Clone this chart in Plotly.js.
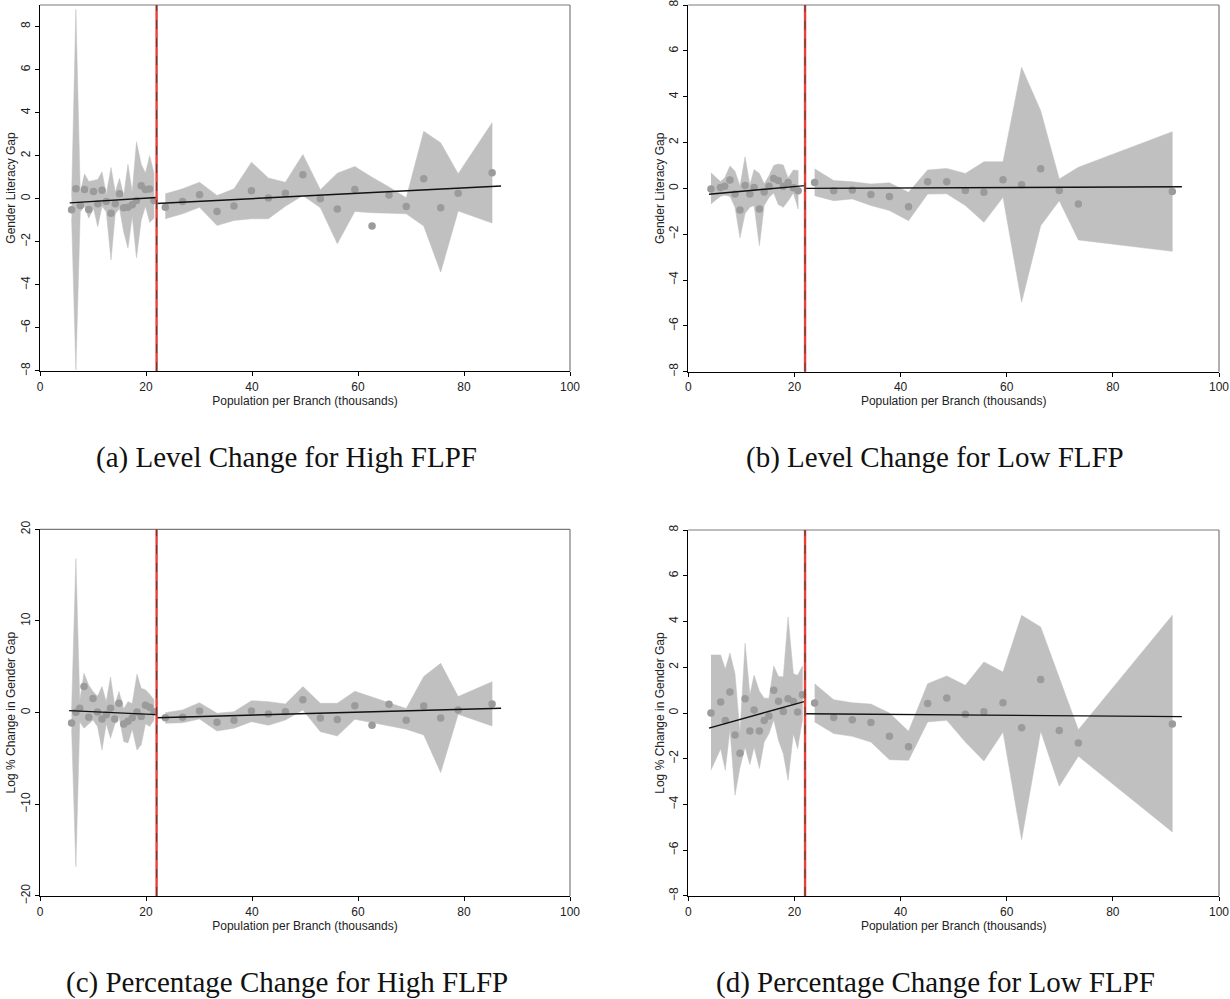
<!DOCTYPE html>
<html>
<head>
<meta charset="utf-8">
<script src="https://cdn.plot.ly/plotly-3.0.1.min.js"></script>
<style>
  html, body { margin: 0; padding: 0; background: #ffffff; }
  #chart { width: 1230px; height: 999px; }
</style>
</head>
<body>
<div id="chart"></div>
<script>
// ---------------- DATA ----------------
const cutoff = 22;
const xTicks = [0, 20, 40, 60, 80, 100];
const yTicksLevel = [-8, -6, -4, -2, 0, 2, 4, 6, 8];
const yTicksPct = [-20, -10, 0, 10, 20];

const captions = [
  "(a) Level Change for High FLPF",
  "(b) Level Change for Low FLFP",
  "(c) Percentage Change for High FLFP",
  "(d) Percentage Change for Low FLPF"
];
const yTitles = ["Gender Literacy Gap", "Gender Literacy Gap", "Log % Change in Gender Gap", "Log % Change in Gender Gap"];
const xTitle = "Population per Branch (thousands)";

// Panel (a)
const aLx  = [5.96, 6.77, 7.6, 8.4, 9.2, 10.1, 10.9, 11.7, 12.5, 13.4, 14.2, 15.0, 15.8, 16.6, 17.4, 18.2, 19.1, 19.9, 20.7, 21.5];
const aLy  = [-0.51, 0.46, -0.31, 0.43, -0.50, 0.34, -0.23, 0.40, -0.13, -0.67, -0.23, 0.23, -0.42, -0.39, -0.28, -0.08, 0.60, 0.43, 0.45, -0.08];
const aLhi = [0.1, 8.8, 0.3, 1.15, 0.8, 0.85, 0.9, 1.25, 0.2, 1.45, 0.3, 0.95, 0.15, 1.6, 0.3, 2.65, 1.6, 1.2, 2.0, 1.2];
const aLlo = [-0.9, -7.95, -0.6, -0.35, -0.9, -0.45, -1.3, -0.35, -0.6, -2.85, -0.7, -0.45, -1.55, -2.3, -0.8, -2.75, -1.0, -0.35, -1.1, -0.9];
const aRx  = [23.65, 26.9, 30.1, 33.4, 36.6, 39.9, 43.1, 46.3, 49.6, 52.9, 56.1, 59.4, 62.65, 65.85, 69.1, 72.4, 75.6, 78.9, 85.3];
const aRy  = [-0.40, -0.13, 0.19, -0.59, -0.34, 0.37, 0.03, 0.26, 1.11, 0.0, -0.48, 0.43, -1.27, 0.17, -0.36, 0.93, -0.42, 0.26, 1.21];
const aRhi = [0.23, 0.46, 0.77, 0.15, 0.46, 1.7, 0.96, 0.77, 2.06, 0.42, 1.19, 1.5, 1.0, 0.55, 0.05, 3.13, 2.6, 1.16, 3.53];
const aRlo = [-0.93, -0.7, -0.4, -1.24, -1.01, -0.93, -0.93, -0.35, 0.15, -0.42, -2.09, -0.59, -0.65, -0.67, -0.7, -1.27, -3.41, -0.57, -1.13];
const aFitLx = [5.6, 22], aFitLy = [-0.19, 0.06];
const aFitRx = [22, 87], aFitRy = [-0.22, 0.59];

// Panel (b)
const bLx  = [4.27, 6.05, 6.85, 7.85, 8.8, 9.74, 10.7, 11.6, 12.4, 13.4, 14.3, 15.2, 16.1, 16.95, 17.9, 18.8, 19.8, 20.7];
const bLy  = [-0.03, 0.04, 0.09, 0.36, -0.25, -0.95, 0.12, -0.25, 0.04, -0.9, -0.16, 0.09, 0.43, 0.34, 0.09, 0.26, 0.03, -0.1];
const bLhi = [0.68, 0.3, 0.45, 0.98, 0.75, 0.1, 1.38, 0.15, 0.82, 0.65, 0.2, 0.55, 1.0, 1.06, 1.02, 0.45, 0.8, 0.78];
const bLlo = [-0.68, -0.35, -0.3, -0.35, -0.83, -2.16, -1.1, -0.83, -0.75, -2.5, -0.75, -0.4, -0.2, -0.7, -0.83, -0.55, -0.2, -0.9];
const bRx  = [23.8, 27.4, 30.9, 34.4, 37.9, 41.5, 45.1, 48.7, 52.2, 55.7, 59.3, 62.8, 66.4, 69.9, 73.5, 91.2];
const bRy  = [0.25, -0.1, -0.07, -0.27, -0.36, -0.8, 0.29, 0.29, -0.09, -0.17, 0.37, 0.16, 0.85, -0.09, -0.68, -0.14];
const bRhi = [0.85, 0.34, 0.29, 0.19, 0.24, -0.17, 0.8, 0.87, 0.65, 1.16, 1.16, 5.28, 3.39, 0.41, 0.92, 2.47];
const bRlo = [-0.32, -0.54, -0.46, -0.75, -0.97, -1.41, -0.25, -0.24, -0.75, -1.48, -0.39, -4.97, -1.63, -0.54, -2.25, -2.75];
const bFitLx = [3.9, 22], bFitLy = [-0.26, 0.12];
const bFitRx = [22, 93], bFitRy = [0.0, 0.07];

// Panel (c)
const cLx  = [5.96, 6.77, 7.5, 8.3, 9.2, 10.0, 10.85, 11.7, 12.5, 13.3, 14.1, 14.9, 15.8, 16.6, 17.4, 18.3, 19.1, 19.9, 20.7, 21.5];
const cLy  = [-1.12, 0.05, 0.48, 2.84, -0.5, 1.55, 0.08, -0.7, -0.22, 0.48, -0.7, 1.02, -1.23, -0.95, -0.55, 0.08, -0.42, 0.8, 0.6, 0.1];
const cLhi = [0.3, 16.8, 1.3, 4.3, 3.0, 2.3, 1.8, 2.84, 1.2, 3.9, 0.8, 2.3, 0.4, 1.2, 1.0, 4.2, 2.65, 2.5, 2.0, 1.4];
const cLlo = [-1.8, -16.8, -1.0, -1.7, -1.2, -0.8, -1.5, -4.07, -1.2, -2.8, -1.3, -0.4, -3.16, -3.3, -1.8, -4.07, -3.5, -1.2, -1.5, -0.8];
const cRx  = [23.65, 26.9, 30.1, 33.4, 36.6, 39.9, 43.1, 46.3, 49.6, 52.9, 56.1, 59.4, 62.65, 65.85, 69.1, 72.4, 75.6, 78.9, 85.3];
const cRy  = [-0.55, -0.5, 0.18, -1.05, -0.83, 0.18, -0.14, 0.11, 1.42, -0.58, -0.76, 0.76, -1.38, 0.91, -0.83, 0.73, -0.58, 0.29, 0.95];
const cRhi = [0.0, 0.3, 1.09, -0.07, 0.11, 1.31, 1.2, 0.95, 2.84, 1.02, 1.02, 2.33, 1.7, 1.1, 0.44, 3.93, 5.38, 1.75, 3.38];
const cRlo = [-1.16, -1.1, -0.69, -2.0, -1.7, -0.98, -1.38, -0.8, 0.29, -2.07, -2.54, -0.73, -1.1, -1.45, -1.8, -2.43, -6.54, -0.18, -1.45];
const cFitLx = [5.5, 22], cFitLy = [0.22, -0.22];
const cFitRx = [22, 87], cFitRy = [-0.55, 0.48];

// Panel (d)
const dLx  = [4.27, 6.1, 6.97, 7.85, 8.8, 9.74, 10.7, 11.6, 12.4, 13.4, 14.3, 15.2, 16.1, 17.0, 17.9, 18.8, 19.8, 20.6, 21.5];
const dLy  = [0.0, 0.48, -0.33, 0.92, -0.96, -1.76, 0.62, -0.79, 0.13, -0.79, -0.33, -0.13, 0.99, 0.51, 0.07, 0.62, 0.5, 0.04, 0.8];
const dLhi = [2.54, 2.54, 1.92, 2.62, 1.72, -0.85, 3.05, 0.8, 1.65, 0.95, 0.65, 0.65, 2.05, 1.6, 1.58, 4.2, 1.72, 1.65, 2.05];
const dLlo = [-2.5, -1.56, -2.5, -0.72, -3.6, -2.38, -1.5, -2.25, -1.49, -2.43, -1.27, -0.9, -0.3, -1.2, -1.78, -2.94, -0.9, -1.56, -0.3];
const dRx  = [23.8, 27.4, 30.9, 34.4, 37.9, 41.5, 45.1, 48.7, 52.2, 55.7, 59.3, 62.8, 66.4, 69.9, 73.5, 91.2];
const dRy  = [0.44, -0.2, -0.29, -0.42, -1.02, -1.48, 0.41, 0.66, -0.06, 0.06, 0.45, -0.64, 1.47, -0.77, -1.31, -0.48];
const dRhi = [1.28, 0.58, 0.45, 0.39, 0.0, -0.8, 1.28, 1.62, 1.21, 2.23, 1.79, 4.27, 3.76, 1.5, -0.73, 4.27];
const dRlo = [-0.39, -0.9, -1.02, -1.27, -2.04, -2.07, -0.39, -0.32, -1.27, -2.1, -0.83, -5.54, -0.8, -3.2, -1.89, -5.2];
const dFitLx = [3.9, 22], dFitLy = [-0.66, 0.51];
const dFitRx = [22, 93], dFitRy = [-0.03, -0.16];

// ---------------- BUILD ----------------
const W = 1230, H = 999;
const bandColor = "rgb(192,192,192)";
const dotColor = "rgb(155,155,155)";

const panels = [
  {xa: "x",  ya: "y",  segs: [[aLx, aLy, aLhi, aLlo], [aRx, aRy, aRhi, aRlo]], fits: [[aFitLx, aFitLy], [aFitRx, aFitRy]],
   xpx: [40, 570], ypx: [5, 371], yr: [-8.0005, 9], yt: yTicksLevel, capx: 286, capy: 457},
  {xa: "x2", ya: "y2", segs: [[bLx, bLy, bLhi, bLlo], [bRx, bRy, bRhi, bRlo]], fits: [[bFitLx, bFitLy], [bFitRx, bFitRy]],
   xpx: [688.3, 1219], ypx: [5, 371.7], yr: [-8.0005, 8.0005], yt: yTicksLevel, capx: 935, capy: 457},
  {xa: "x3", ya: "y3", segs: [[cLx, cLy, cLhi, cLlo], [cRx, cRy, cRhi, cRlo]], fits: [[cFitLx, cFitLy], [cFitRx, cFitRy]],
   xpx: [40, 570], ypx: [529.3, 896], yr: [-20.001, 20.001], yt: yTicksPct, capx: 286.5, capy: 982},
  {xa: "x4", ya: "y4", segs: [[dLx, dLy, dLhi, dLlo], [dRx, dRy, dRhi, dRlo]], fits: [[dFitLx, dFitLy], [dFitRx, dFitRy]],
   xpx: [688.3, 1219], ypx: [530, 896], yr: [-8.0005, 8.0005], yt: yTicksLevel, capx: 935.5, capy: 982}
];

const traces = [];
const layout = {
  width: W, height: H,
  margin: {l: 0, r: 0, t: 0, b: 0, pad: 0},
  paper_bgcolor: "#ffffff",
  plot_bgcolor: "#ffffff",
  showlegend: false,
  font: {family: "Liberation Sans, Arial, sans-serif", size: 12, color: "#222"},
  shapes: [],
  annotations: []
};

panels.forEach((p, i) => {
  const n = i === 0 ? "" : String(i + 1);
  // bands
  p.segs.forEach(s => {
    const [xs, ys, hi, lo] = s;
    traces.push({
      type: "scatter", mode: "lines", xaxis: p.xa, yaxis: p.ya,
      x: xs.concat(xs.slice().reverse()),
      y: hi.concat(lo.slice().reverse()),
      fill: "toself", fillcolor: bandColor,
      line: {color: bandColor, width: 0.5}, hoverinfo: "skip"
    });
  });
  // points
  p.segs.forEach(s => {
    traces.push({
      type: "scatter", mode: "markers", xaxis: p.xa, yaxis: p.ya,
      x: s[0], y: s[1],
      marker: {color: dotColor, size: 7.5, line: {width: 0}}
    });
  });
  // fit lines
  p.fits.forEach(f => {
    traces.push({
      type: "scatter", mode: "lines", xaxis: p.xa, yaxis: p.ya,
      x: f[0], y: f[1], line: {color: "#111", width: 1.4}
    });
  });

  const xd = [p.xpx[0] / W, p.xpx[1] / W];
  const yd = [1 - p.ypx[1] / H, 1 - p.ypx[0] / H];
  layout["xaxis" + n] = {
    domain: xd, anchor: p.ya, range: [0, 100], tickvals: xTicks,
    showgrid: false, zeroline: false, showline: true, linecolor: "#000", linewidth: 1.3,
    ticks: "outside", ticklen: 4, tickwidth: 1, tickcolor: "#000",
    tickfont: {size: 12, color: "#222"}, automargin: false, ticklabeloverflow: "allow",
    title: {text: xTitle, font: {size: 12, color: "#222"}, standoff: 2}
  };
  layout["yaxis" + n] = {
    domain: yd, anchor: p.xa, range: p.yr, tickvals: p.yt, tickangle: -90,
    showgrid: false, zeroline: false, showline: true, linecolor: "#000", linewidth: 1.3,
    ticks: "outside", ticklen: 4, tickwidth: 1, tickcolor: "#000",
    tickfont: {size: 12, color: "#222"}, automargin: false, ticklabeloverflow: "allow",
    title: {text: yTitles[i], font: {size: 12, color: "#222"}, standoff: 0}
  };
  // frame top/right
  layout.shapes.push({type: "line", xref: p.xa + " domain", yref: p.ya + " domain", x0: 0, x1: 1, y0: 1, y1: 1,
    line: {color: "#7a7a7a", width: 1.2}, layer: "above"});
  layout.shapes.push({type: "line", xref: p.xa + " domain", yref: p.ya + " domain", x0: 1, x1: 1, y0: 0, y1: 1,
    line: {color: "#7a7a7a", width: 1.2}, layer: "above"});
  // cutoff line
  layout.shapes.push({type: "line", xref: p.xa, yref: p.ya + " domain", x0: cutoff, x1: cutoff, y0: 0, y1: 1,
    line: {color: "#e8413c", width: 2.4}, layer: "above"});
  layout.shapes.push({type: "line", xref: p.xa, yref: p.ya + " domain", x0: cutoff, x1: cutoff, y0: 0, y1: 1,
    line: {color: "#444", width: 1, dash: "dash"}, layer: "above"});
  // caption
  layout.annotations.push({
    xref: "paper", yref: "paper", x: p.capx / W, y: 1 - p.capy / H,
    xanchor: "center", yanchor: "middle", showarrow: false, text: captions[i],
    font: {family: "Liberation Serif, Times New Roman, serif", size: 29, color: "#111"}
  });
});

Plotly.newPlot("chart", traces, layout, {displayModeBar: false, staticPlot: true});
</script>
</body>
</html>
